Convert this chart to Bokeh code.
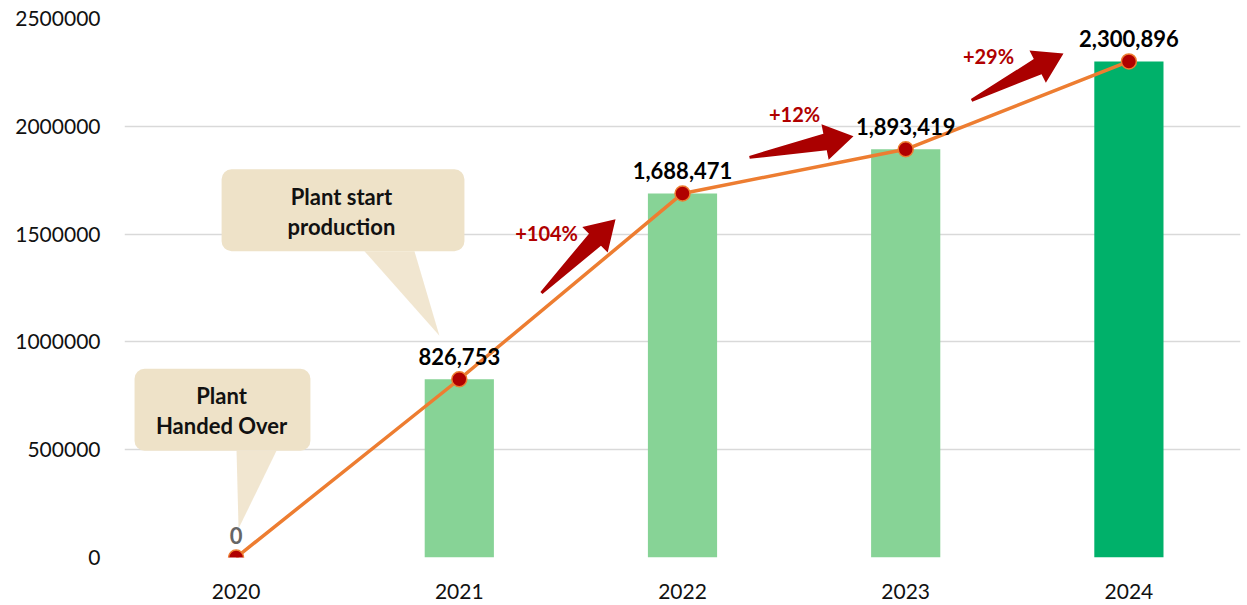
import math
from bokeh.plotting import figure
from bokeh.models import (FactorRange, Range1d, FixedTicker, NumeralTickFormatter,
                          BoxAnnotation, ColumnDataSource)
from bokeh.core.properties import value
from bokeh.embed import file_html
from bokeh.resources import INLINE

# ---------------- data ----------------
YEARS = ["2020", "2021", "2022", "2023", "2024"]
OUTPUT = [0, 826753, 1688471, 1893419, 2300896]
VALUE_LABELS = ["0", "826,753", "1,688,471", "1,893,419", "2,300,896"]
BAR_COLORS = ["#87D396", "#87D396", "#87D396", "#87D396", "#00B16A"]
LABEL_COLORS = ["#666666", "#000000", "#000000", "#000000", "#000000"]
GROWTH_LABELS = ["+104%", "+12%", "+29%"]
Y_TICKS = [0, 500000, 1000000, 1500000, 2000000, 2500000]
CALLOUT_1 = ["Plant", "Handed Over"]
CALLOUT_2 = ["Plant start", "production"]

# ---------------- layout ----------------
W, H = 1241, 604
BL, BR, BT, BB = 124, 1, 18, 47
FRAME_W = W - BL - BR
FRAME_H = H - BT - BB
Y_MAX = 2500000
PX_X = FRAME_W / len(YEARS)
PX_Y = FRAME_H / Y_MAX
FONT = value("Lato")

p = figure(x_range=FactorRange(*YEARS, range_padding=0), y_range=Range1d(0, Y_MAX),
           width=W, height=H, output_backend="svg", toolbar_location=None,
           min_border_left=BL, min_border_right=BR, min_border_top=BT, min_border_bottom=BB)
p.outline_line_color = None
p.background_fill_color = "white"
p.border_fill_color = "white"
p.xgrid.grid_line_color = None
p.ygrid.grid_line_color = "#D9D9D9"
p.ygrid.grid_line_width = 1.3

p.yaxis.ticker = FixedTicker(ticks=Y_TICKS)
p.yaxis.formatter = NumeralTickFormatter(format="0")
for ax in (p.xaxis[0], p.yaxis[0]):
    ax.axis_line_color = None
    ax.major_tick_line_color = None
    ax.minor_tick_line_color = None
    ax.major_label_text_font = "Lato"
    ax.major_label_text_font_size = "21px"
    ax.major_label_text_color = "#111111"
p.yaxis.major_label_standoff = 18
p.xaxis.major_label_standoff = 20

# callout boxes (rounded) and their tails; x in synthetic category units (0..5)
callouts = [
    dict(box=(0.045, 0.833, 875000, 495000),
         tail=[(0.502, 495000), (0.681, 495000), (0.511, 134000)],
         text=CALLOUT_1, tx=0.435, ty=[750000, 611000]),
    dict(box=(0.435, 1.523, 1801000, 1421000),
         tail=[(1.075, 1421000), (1.299, 1421000), (1.411, 1028000)],
         text=CALLOUT_2, tx=0.972, ty=[1676000, 1537000]),
]
BOX_COLOR = "#EEE2C8"
for c in callouts:
    l, r, t, b = c["box"]
    p.add_layout(BoxAnnotation(left=l, right=r, top=t, bottom=b,
                               fill_color=BOX_COLOR, fill_alpha=1.0, line_color=None,
                               border_radius=10, level="underlay"))
    p.patch([q[0] for q in c["tail"]], [q[1] for q in c["tail"]],
            fill_color=BOX_COLOR, fill_alpha=0.85, line_color=None)

# bars, line, markers
src = ColumnDataSource(dict(year=YEARS, value=OUTPUT, label=VALUE_LABELS,
                            color=BAR_COLORS, lcolor=LABEL_COLORS))
p.vbar(x="year", top="value", width=0.31, source=src, fill_color="color", line_color=None)
p.line(x="year", y="value", source=src, line_color="#ED7D31", line_width=3.5)
p.scatter(x="year", y="value", source=src, size=15, fill_color="#B00000",
          line_color="#ED7D31", line_width=1.5)
p.text(x="year", y="value", text="label", source=src, text_align="center",
       text_baseline="bottom", y_offset=-14, text_font=FONT, text_font_style="bold",
       text_font_size="22px", text_color="lcolor")

# callout texts
for c in callouts:
    p.text(x=[c["tx"]] * len(c["text"]), y=c["ty"], text=c["text"],
           text_align="center", text_baseline="middle", text_font=FONT,
           text_font_style="bold", text_font_size="22px", text_color="#111111")

# growth arrows (decorative annotation positions)
arrows = [((1.868, 1227000), (2.200, 1569000)),
          ((2.800, 1856000), (3.266, 1954000)),
          ((3.795, 2120000), (4.207, 2338000))]
growth_pos = [(1.891, 1505000), (3.002, 2056000), (3.871, 2325000)]


def arrow_poly(tail, tip, hl=29, hw=18, sw_head=8.5, sw_tail=1.5):
    tx, ty = tail[0] * PX_X, tail[1] * PX_Y
    hx, hy = tip[0] * PX_X, tip[1] * PX_Y
    L = math.hypot(hx - tx, hy - ty)
    ux, uy = (hx - tx) / L, (hy - ty) / L
    nx, ny = -uy, ux
    bx, by = hx - ux * hl, hy - uy * hl
    pts = [(tx + nx * sw_tail, ty + ny * sw_tail),
           (bx + nx * sw_head, by + ny * sw_head),
           (bx + nx * hw, by + ny * hw),
           (hx, hy),
           (bx - nx * hw, by - ny * hw),
           (bx - nx * sw_head, by - ny * sw_head),
           (tx - nx * sw_tail, ty - ny * sw_tail)]
    return [q[0] / PX_X for q in pts], [q[1] / PX_Y for q in pts]


xs, ys = [], []
for tail, tip in arrows:
    ax_, ay_ = arrow_poly(tail, tip)
    xs.append(ax_)
    ys.append(ay_)
p.patches(xs, ys, fill_color="#AA0000", line_color=None)

p.text(x=[g[0] for g in growth_pos], y=[g[1] for g in growth_pos], text=GROWTH_LABELS,
       text_align="center", text_baseline="middle", text_font=FONT,
       text_font_style="bold", text_font_size="20px", text_color="#B00000")

open("out.html", "w").write(file_html(p, INLINE))
